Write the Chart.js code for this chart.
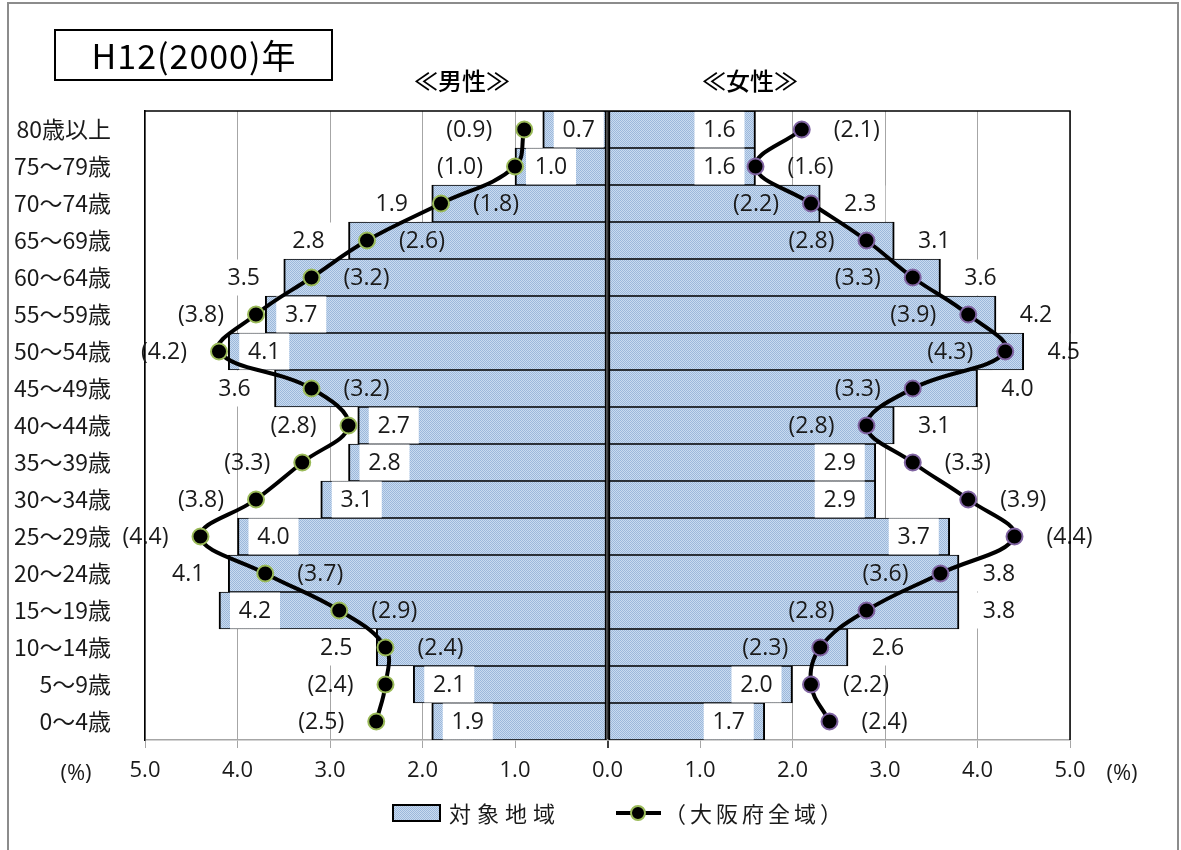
<!DOCTYPE html>
<html>
<head>
<meta charset="utf-8">
<script src="https://cdn.jsdelivr.net/npm/chart.js@4/dist/chart.umd.min.js"></script>
<style>
  html, body { margin: 0; padding: 0; background: #fff; }
  #wrap { width: 1181px; height: 850px; position: relative; }
</style>
</head>
<body>
<div id="wrap"><canvas id="pyramid" width="1181" height="850"></canvas></div>
<script>
// age groups, top row first
const ageLabels = ['80歳以上','75～79歳','70～74歳','65～69歳','60～64歳','55～59歳','50～54歳','45～49歳',
  '40～44歳','35～39歳','30～34歳','25～29歳','20～24歳','15～19歳','10～14歳','5～9歳','0～4歳'];

// 対象地域 (bars)
const maleArea   = [0.7,1.0,1.9,2.8,3.5,3.7,4.1,3.6,2.7,2.8,3.1,4.0,4.1,4.2,2.5,2.1,1.9];
const femaleArea = [1.6,1.6,2.3,3.1,3.6,4.2,4.5,4.0,3.1,2.9,2.9,3.7,3.8,3.8,2.6,2.0,1.7];

// 大阪府全域 (lines)
const maleOsaka   = [0.9,1.0,1.8,2.6,3.2,3.8,4.2,3.2,2.8,3.3,3.8,4.4,3.7,2.9,2.4,2.4,2.5];
const femaleOsaka = [2.1,1.6,2.2,2.8,3.3,3.9,4.3,3.3,2.8,3.3,3.9,4.4,3.6,2.8,2.3,2.2,2.4];

const xMin = -5, xMax = 5;
const titleText = 'H12(2000)年';
const legendBar = '対象地域';
const legendLine = '（大阪府全域）';

const numFont = "'Open Sans', 'Noto Sans CJK JP', sans-serif";
const jpFont = "'Noto Sans CJK JP', sans-serif";

// hatched light blue fill like the Excel pattern
function makePattern() {
  var c = document.createElement('canvas');
  c.width = 4; c.height = 4;
  var g = c.getContext('2d');
  g.fillStyle = '#c9dbf0';
  g.fillRect(0, 0, 4, 4);
  g.fillStyle = '#9cb8db';
  g.fillRect(0, 0, 1, 1); g.fillRect(2, 0, 1, 1);
  g.fillRect(1, 1, 1, 1); g.fillRect(3, 1, 1, 1);
  g.fillRect(0, 2, 1, 1); g.fillRect(2, 2, 1, 1);
  g.fillRect(1, 3, 1, 1); g.fillRect(3, 3, 1, 1);
  return document.getElementById('pyramid').getContext('2d').createPattern(c, 'repeat');
}
const hatch = makePattern();

const barStyle = {
  type: 'bar',
  backgroundColor: hatch,
  borderColor: '#000',
  borderWidth: {top: 1, bottom: 1, left: 2, right: 2},
  borderSkipped: false,
  grouped: false,
  barPercentage: 1,
  categoryPercentage: 1,
  order: 2
};
const lineStyle = {
  type: 'line',
  borderColor: '#000',
  borderWidth: 4,
  tension: 0.4,
  pointRadius: 8,
  pointHoverRadius: 8,
  pointBackgroundColor: '#000',
  pointBorderWidth: 2,
  fill: false,
  order: 1
};

function drawBox(ctx, cx, cy, w, h) {
  ctx.fillStyle = '#fff';
  ctx.fillRect(cx - w / 2, cy - h / 2, w, h);
}

// value labels; the bar label goes outside when the Osaka point sits just inside the bar end
const labelPlugin = {
  id: 'labels',
  afterDatasetDraw(chart, args) {
    if (args.index > 1) return;
    const ctx = chart.ctx, xs = chart.scales.x, ys = chart.scales.y;
    const bars = args.index === 0 ? maleArea : femaleArea;
    const line = args.index === 0 ? maleOsaka : femaleOsaka;
    const sign = args.index === 0 ? -1 : 1;
    ctx.save();
    ctx.font = '23px ' + numFont;
    ctx.textAlign = 'center';
    ctx.textBaseline = 'middle';
    bars.forEach(function (v, i) {
      const end = xs.getPixelForValue(sign * v);
      const y = ys.getPixelForValue(i);
      const outside = line[i] < v && v - line[i] < 1.05;
      const x = outside ? end + sign * 40 : end - sign * 36;
      drawBox(ctx, x, y, 50, 36);
      ctx.fillStyle = '#1a1a1a';
      ctx.fillText(v.toFixed(1), x, y + 1);
    });
    ctx.restore();
  },
  afterDatasetsDraw(chart) {
    const ctx = chart.ctx, xs = chart.scales.x, ys = chart.scales.y;
    ctx.save();
    ctx.font = '23px ' + numFont;
    ctx.textAlign = 'center';
    ctx.textBaseline = 'middle';
    ctx.fillStyle = '#1a1a1a';
    [[maleOsaka, maleArea, -1], [femaleOsaka, femaleArea, 1]].forEach(function (s) {
      s[0].forEach(function (v, i) {
        const px = xs.getPixelForValue(s[2] * v);
        const y = ys.getPixelForValue(i);
        const inward = v < s[1][i];
        const x = inward ? px - s[2] * 55 : px + s[2] * 55;
        ctx.fillText('(' + v.toFixed(1) + ')', x, y + 1);
      });
    });
    ctx.restore();
  }
};

const decoPlugin = {
  id: 'deco',
  beforeDraw(chart) {
    const ctx = chart.ctx;
    ctx.save();
    ctx.fillStyle = '#fff';
    ctx.fillRect(0, 0, chart.width, chart.height);
    ctx.restore();
  },
  afterDraw(chart) {
    const ctx = chart.ctx, a = chart.chartArea;
    ctx.save();
    // outer frame
    ctx.strokeStyle = '#8c8c8c';
    ctx.lineWidth = 2;
    ctx.strokeRect(8, 3, chart.width - 11, chart.height + 10);
    // plot frame top / right
    ctx.strokeStyle = '#000';
    ctx.lineWidth = 1.5;
    ctx.beginPath();
    ctx.moveTo(a.left, a.top);
    ctx.lineTo(a.right, a.top);
    ctx.lineTo(a.right, a.bottom);
    ctx.stroke();

    // title box
    ctx.lineWidth = 2;
    ctx.strokeRect(55, 30, 277, 50);
    ctx.fillStyle = '#000';
    ctx.font = '34px ' + jpFont;
    ctx.textAlign = 'center';
    ctx.textBaseline = 'middle';
    ctx.letterSpacing = '1px';
    ctx.fillText(titleText, 194, 56);
    ctx.letterSpacing = '0px';

    ctx.font = '500 24px ' + jpFont;
    ctx.fillText('≪男性≫', 462, 81);
    ctx.fillText('≪女性≫', 750, 81);

    // (%) labels
    ctx.font = '22px ' + numFont;
    ctx.fillStyle = '#1a1a1a';
    ctx.fillText('(%)', 76, 774);
    ctx.fillText('(%)', 1122, 774);

    // legend
    const ly = 813;
    ctx.fillStyle = hatch;
    ctx.fillRect(393, ly - 8, 47, 16);
    ctx.strokeStyle = '#000';
    ctx.lineWidth = 2;
    ctx.strokeRect(393, ly - 8, 47, 16);
    ctx.fillStyle = '#1a1a1a';
    ctx.font = '22px ' + jpFont;
    ctx.textAlign = 'left';
    ctx.letterSpacing = '6px';
    ctx.fillText(legendBar, 449, ly + 1);

    ctx.lineWidth = 4;
    ctx.beginPath();
    ctx.moveTo(616, ly);
    ctx.lineTo(661, ly);
    ctx.stroke();
    ctx.beginPath();
    ctx.arc(638, ly, 7, 0, Math.PI * 2);
    ctx.fillStyle = '#000';
    ctx.fill();
    ctx.lineWidth = 2;
    ctx.strokeStyle = '#9bbb59';
    ctx.stroke();
    ctx.fillStyle = '#1a1a1a';
    ctx.letterSpacing = '4px';
    ctx.fillText(legendLine, 664, ly + 1);
    ctx.restore();
  }
};

new Chart(document.getElementById('pyramid'), {
  data: {
    labels: ageLabels,
    datasets: [
      Object.assign({label: legendBar, data: maleArea.map(v => -v)}, barStyle),
      Object.assign({label: legendBar, data: femaleArea}, barStyle),
      Object.assign({label: legendLine, data: maleOsaka.map(v => -v), pointBorderColor: '#9bbb59'}, lineStyle),
      Object.assign({label: legendLine, data: femaleOsaka, pointBorderColor: '#8064a2'}, lineStyle)
    ]
  },
  options: {
    indexAxis: 'y',
    responsive: false,
    animation: false,
    events: [],
    layout: { padding: { top: 111, right: 111, left: 0, bottom: 0 } },
    plugins: { legend: { display: false }, tooltip: { enabled: false } },
    scales: {
      x: {
        type: 'linear',
        min: xMin,
        max: xMax,
        afterFit(s) { s.height = 110; },
        ticks: {
          stepSize: 1,
          padding: 10,
          color: '#1a1a1a',
          font: { size: 22, family: numFont },
          callback: v => Math.abs(v).toFixed(1)
        },
        grid: {
          color: c => c.tick && c.tick.value === 0 ? '#404040' : '#a6a6a6',
          lineWidth: c => c.tick && c.tick.value === 0 ? 2 : 1,
          tickLength: 8
        },
        border: { color: '#a6a6a6', width: 1.5 }
      },
      y: {
        type: 'category',
        afterFit(s) { s.width = 145; },
        ticks: {
          padding: 26,
          color: '#1a1a1a',
          font: { size: 23, family: jpFont }
        },
        grid: { display: false },
        border: { color: '#000', width: 1.5 }
      }
    }
  },
  plugins: [decoPlugin, labelPlugin]
});
</script>
</body>
</html>
